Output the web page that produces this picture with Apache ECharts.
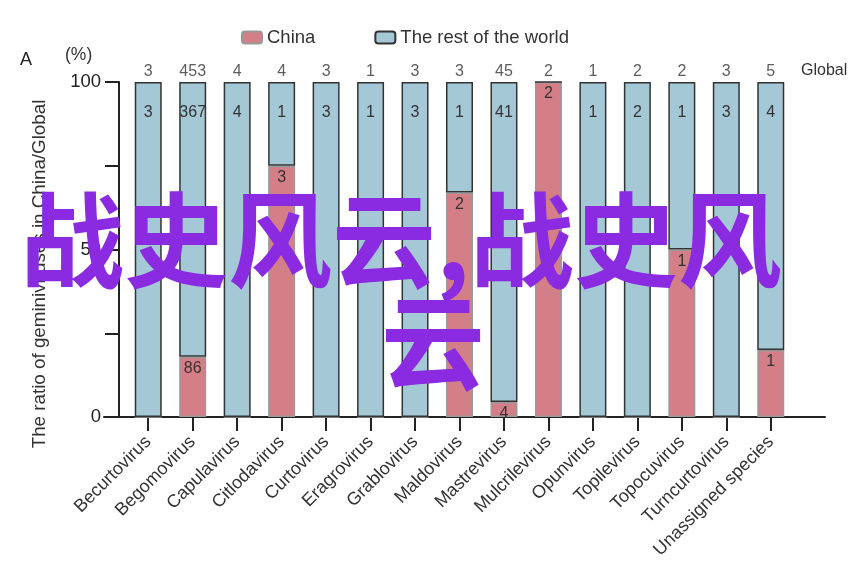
<!DOCTYPE html>
<html>
<head>
<meta charset="utf-8">
<script src="https://cdn.jsdelivr.net/npm/echarts@6/dist/echarts.min.js"></script>
<style>html,body{margin:0;padding:0;background:#fff}#c{width:866px;height:565px}</style>
</head>
<body>
<div id="c"></div>
<script>
const categories = ['Becurtovirus','Begomovirus','Capulavirus','Citlodavirus','Curtovirus','Eragrovirus','Grablovirus','Maldovirus','Mastrevirus','Mulcrilevirus','Opunvirus','Topilevirus','Topocuvirus','Turncurtovirus','Unassigned species'];
const globalCounts = [3,453,4,4,3,1,3,3,45,2,1,2,2,3,5];
const chinaCounts = [null,86,null,3,null,null,null,2,4,2,null,null,1,null,1];
const restCounts = [3,367,4,1,3,1,3,1,41,null,1,2,1,3,4];
const chinaPct = [0,18,0,75,0,0,0,67,4.5,100,0,0,50,0,20];
const restPct = [100,82,100,25,100,100,100,33,95.5,0,100,100,50,100,80];
const yTickLabels = {0:'0',50:'50',100:'100'};

const FONT = '"Liberation Sans", Arial, sans-serif';
const chart = echarts.init(document.getElementById('c'));
chart.setOption({
  animation: false,
  backgroundColor: '#fff',
  textStyle: {fontFamily: FONT},
  legend: {
    left: 236, top: 23, itemWidth: 20, itemHeight: 12, itemGap: 59,
    textStyle: {fontSize: 18.5, color: '#333', fontFamily: FONT},
    data: ['China','The rest of the world']
  },
  grid: [
    {left: 126, right: 73, top: 82, bottom: 148},
    {left: 104, right: 41, top: 82, bottom: 148}
  ],
  xAxis: [
    {
      type: 'category', data: categories, gridIndex: 0,
      axisLine: {show: false},
      axisTick: {show: true, alignWithLabel: true, length: 14, lineStyle: {color: '#222', width: 2}},
      axisLabel: {rotate: 45, fontSize: 18, color: '#333', margin: 22, fontFamily: FONT, interval: 0}
    },
    {
      type: 'value', gridIndex: 1, min: 0, max: 1,
      axisLine: {show: true, lineStyle: {color: '#222', width: 2}},
      axisTick: {show: false}, axisLabel: {show: false}, splitLine: {show: false}
    }
  ],
  yAxis: [
    {
      type: 'value', gridIndex: 0, min: 0, max: 100, interval: 25, offset: 7,
      axisLine: {show: true, lineStyle: {color: '#222', width: 2}},
      axisTick: {show: true, length: 14, lineStyle: {color: '#222', width: 2}},
      axisLabel: {fontSize: 18.5, color: '#222', margin: 18, fontFamily: FONT,
        formatter: v => (yTickLabels[v] !== undefined ? yTickLabels[v] : '')},
      splitLine: {show: false}
    },
    {type: 'value', gridIndex: 1, min: 0, max: 1, show: false}
  ],
  series: [
    {
      name: 'China', type: 'bar', stack: 'r', barWidth: 27,
      data: chinaPct,
      itemStyle: {color: '#d47f87', borderColor: '#999', borderWidth: 1.5},
      label: {show: true, position: 'insideTop', distance: 4, fontSize: 16, color: '#333',
        formatter: p => (chinaCounts[p.dataIndex] == null ? '' : String(chinaCounts[p.dataIndex]))}
    },
    {
      name: 'The rest of the world', type: 'bar', stack: 'r', barWidth: 27,
      data: restPct,
      itemStyle: {color: '#a5c8d6', borderColor: '#333', borderWidth: 1.5},
      label: {show: true, position: 'insideTop', distance: 23, fontSize: 16, color: '#333',
        formatter: p => (restCounts[p.dataIndex] == null ? '' : String(restCounts[p.dataIndex]))}
    },
    {
      name: 'global', type: 'scatter', symbolSize: 0,
      data: globalCounts.map(() => 100),
      label: {show: true, position: 'top', distance: 2, fontSize: 16, color: '#333',
        formatter: p => String(globalCounts[p.dataIndex])},
      z: 5
    }
  ],
  graphic: [
    {type: 'text', left: 20, top: 51, style: {text: 'A', fontSize: 18, fill: '#222', fontFamily: FONT}},
    {type: 'text', left: 65, top: 46, style: {text: '(%)', fontSize: 17.5, fill: '#333', fontFamily: FONT}},
    {type: 'text', left: 801, top: 63, style: {text: 'Global', fontSize: 16, fill: '#333', fontFamily: FONT}},
    {type: 'text', x: 40, y: 274, rotation: Math.PI / 2,
      style: {text: 'The ratio of geminiviruses in China/Global', fontSize: 18.8, fill: '#333', fontFamily: FONT,
        align: 'center', verticalAlign: 'middle'}},
    {type: 'text', left: 20, top: 188, z: 100,
      style: {text: '战史风云,战史风', fontSize: 104, fontWeight: 'bold', fill: '#8a2be2', fontFamily: 'Noto Sans CJK SC'}},
    {type: 'text', left: 381, top: 290, z: 100,
      style: {text: '云', fontSize: 104, fontWeight: 'bold', fill: '#8a2be2', fontFamily: 'Noto Sans CJK SC'}}
  ]
});
</script>
</body>
</html>
